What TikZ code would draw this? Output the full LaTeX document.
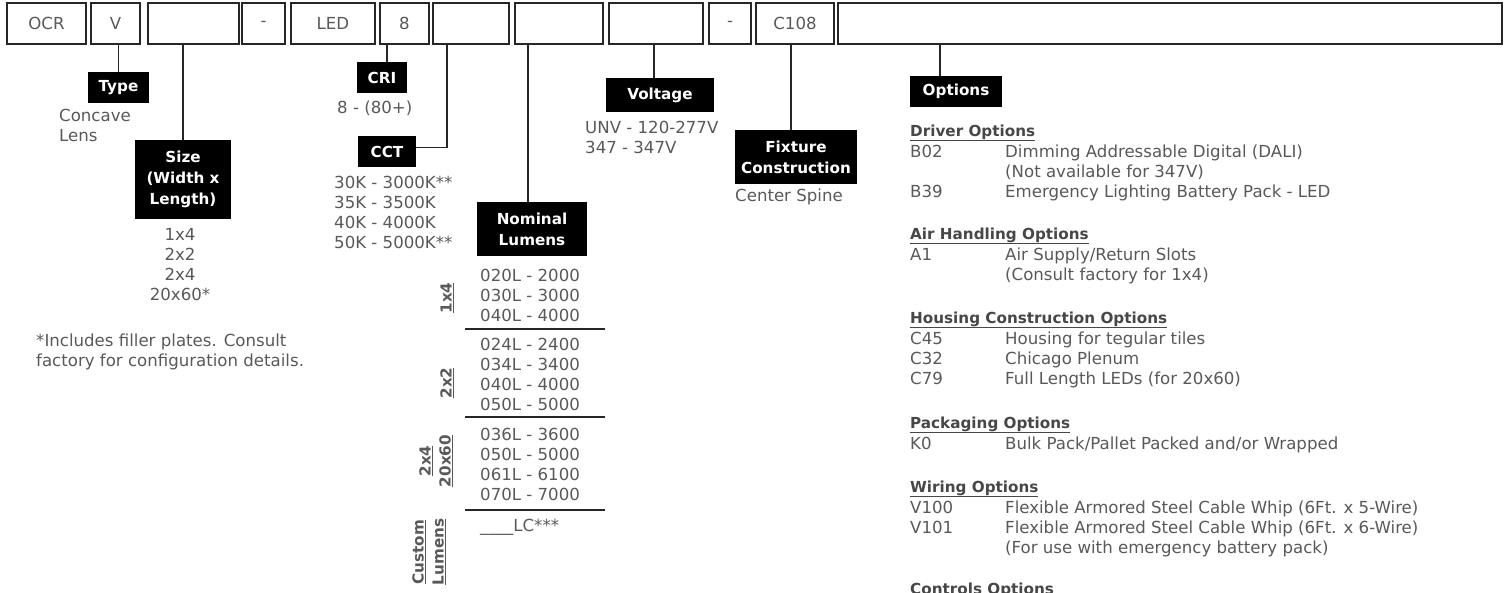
\documentclass[tikz,border=0pt]{standalone}
\usepackage{fontspec}
\setmainfont{DejaVu Sans}
\usetikzlibrary{positioning}
\definecolor{txt}{HTML}{595959}
\definecolor{hd}{HTML}{474747}
\definecolor{ink}{HTML}{262626}
\newcommand{\opthd}[1]{\multicolumn{2}{@{}l@{}}{\fontsize{15.2}{20}\selectfont\bfseries\color{hd}\underline{#1}}}
\tikzset{
  code/.style={draw=ink, line width=1.3pt, minimum width=#1, minimum height=41pt, inner sep=0pt,
               text=txt, font=\fontsize{16.6}{20}\selectfont},
  tag/.style={fill=black, text=white, font=\fontsize{15.2}{21}\selectfont\bfseries, align=center,
              minimum width=#1, minimum height=31pt, inner sep=0pt},
  val/.style={text=txt, font=\fontsize{16.6}{20}\selectfont, align=left, inner sep=0pt, anchor=west},
  grp/.style={rotate=90, text=txt, font=\fontsize{15.2}{20}\selectfont\bfseries, align=center, inner sep=0pt},
  optgrp/.style={anchor=base west, inner sep=0pt, text=txt, font=\fontsize{16.6}{20}\selectfont},
  wire/.style={draw=ink, line width=1.6pt},
  sep/.style={draw=ink, line width=1.6pt}
}
\begin{document}
\begin{tikzpicture}[x=1pt, y=-1pt]
\fill[white] (0,0) rectangle (1509,592);
\useasboundingbox (0,0) rectangle (1509,592);
% ordering code boxes
\node[code=79pt] (ocr) at (46.5,23.5) {OCR};
\node[code=49pt] (v) at (115.5,23.5) {V};
\node[code=91pt] (sz) at (193.5,23.5) {};
\node[code=43pt] (d1) at (263.5,23.5) {-};
\node[code=84pt] (led) at (333,23.5) {LED};
\node[code=49pt] (cr) at (404.5,23.5) {8};
\node[code=76pt] (cc) at (471,23.5) {};
\node[code=88pt] (lm) at (559,23.5) {};
\node[code=94pt] (vo) at (656,23.5) {};
\node[code=42pt] (d2) at (730,23.5) {-};
\node[code=78pt] (fx) at (795,23.5) {C108};
\node[code=664pt] (op) at (1170,23.5) {};
% labels
\node[tag=61pt] (type) at (118.5,87.5) {Type};
\node[tag=96pt, minimum height=79pt] (size) at (183,179.5) {Size\\(Width x\\Length)};
\node[tag=50pt] (cri) at (382,77.5) {CRI};
\node[tag=58pt] (cct) at (387,151.5) {CCT};
\node[tag=110pt, minimum height=54pt] (lum) at (532,229) {Nominal\\Lumens};
\node[tag=108pt, minimum height=34pt] (volt) at (660,95) {Voltage};
\node[tag=122pt, minimum height=54pt] (fix) at (796,157) {Fixture\\Construction};
\node[tag=92pt] (opts) at (956,91.5) {Options};
\draw[wire] (type.north) -- (type.north |- v.south);
\draw[wire] (size.north) -- (size.north |- sz.south);
\draw[wire] ([xshift=5pt]cri.north) -- ([xshift=5pt]cri.north |- cr.south);
\draw[wire] ([yshift=4pt]cct.east) -| ([xshift=-24pt]cc.south);
\draw[wire] ([xshift=-4pt]lum.north) -- ([xshift=-4pt]lum.north |- lm.south);
\draw[wire] ([xshift=-6pt]volt.north) -- ([xshift=-6pt]volt.north |- vo.south);
\draw[wire] ([xshift=-5pt]fix.north) -- ([xshift=-5pt]fix.north |- fx.south);
\draw[wire] ([xshift=-16pt]opts.north) -- ([xshift=-16pt]opts.north |- op.south);
% values
\node[val] (typev) at (59,125) {Concave\\Lens};
\node[val, anchor=center, align=center] (sizev) at (180,265) {1x4\\2x2\\2x4\\20x60*};
\node[val] (note) at (36,352) {*Includes filler plates. Consult\\factory for configuration details.};
\node[val] (criv) at (337,108) {8 - (80+)};
\node[val] (cctv) at (334,212) {30K - 3000K**\\35K - 3500K\\40K - 4000K\\50K - 5000K**};
\node[val] (voltv) at (585,137) {UNV - 120-277V\\347 - 347V};
\node[val] (fixv) at (735,197) {Center Spine};
% lumen packages
\node[val] (l14) at (480,295) {020L - 2000\\030L - 3000\\040L - 4000};
\node[val] (l22) at (480,374) {024L - 2400\\034L - 3400\\040L - 4000\\050L - 5000};
\node[val] (l24) at (480,464) {036L - 3600\\050L - 5000\\061L - 6100\\070L - 7000};
\node[val] (lc) at (480,527) {\_\_\_\_LC***};
\node[grp] (g14) at (447,298) {\underline{1x4}};
\node[grp] (g22) at (447,383) {\underline{2x2}};
\node[grp] (g24) at (436,461) {\underline{2x4}\\\underline{20x60}};
\node[grp] (gc) at (429,552) {\underline{Custom}\\\underline{Lumens}};
\foreach \yy in {329,417,510}
  \draw[sep] (465,\yy) -- (605,\yy);
% options list
\node[optgrp] (drv) at (910,136) {\begin{tabular}[t]{@{}p{95pt}@{}l@{}}
  \opthd{Driver Options}\\[1pt]
  B02 & Dimming Addressable Digital (DALI)\\
      & (Not available for 347V)\\
  B39 & Emergency Lighting Battery Pack - LED
\end{tabular}};
\node[optgrp] (air) at (910,239) {\begin{tabular}[t]{@{}p{95pt}@{}l@{}}
  \opthd{Air Handling Options}\\[1pt]
  A1 & Air Supply/Return Slots\\
     & (Consult factory for 1x4)
\end{tabular}};
\node[optgrp] (hsg) at (910,323) {\begin{tabular}[t]{@{}p{95pt}@{}l@{}}
  \opthd{Housing Construction Options}\\[1pt]
  C45 & Housing for tegular tiles\\
  C32 & Chicago Plenum\\
  C79 & Full Length LEDs (for 20x60)
\end{tabular}};
\node[optgrp] (pkg) at (910,428) {\begin{tabular}[t]{@{}p{95pt}@{}l@{}}
  \opthd{Packaging Options}\\[1pt]
  K0 & Bulk Pack/Pallet Packed and/or Wrapped
\end{tabular}};
\node[optgrp] (wir) at (910,492) {\begin{tabular}[t]{@{}p{95pt}@{}l@{}}
  \opthd{Wiring Options}\\[1pt]
  V100 & Flexible Armored Steel Cable Whip (6Ft. x 5-Wire)\\
  V101 & Flexible Armored Steel Cable Whip (6Ft. x 6-Wire)\\
       & (For use with emergency battery pack)
\end{tabular}};
\node[optgrp] (ctl) at (910,594) {\begin{tabular}[t]{@{}l@{}}
  \fontsize{15.2}{20}\selectfont\bfseries\color{hd}\underline{Controls Options}
\end{tabular}};
\end{tikzpicture}
\end{document}
